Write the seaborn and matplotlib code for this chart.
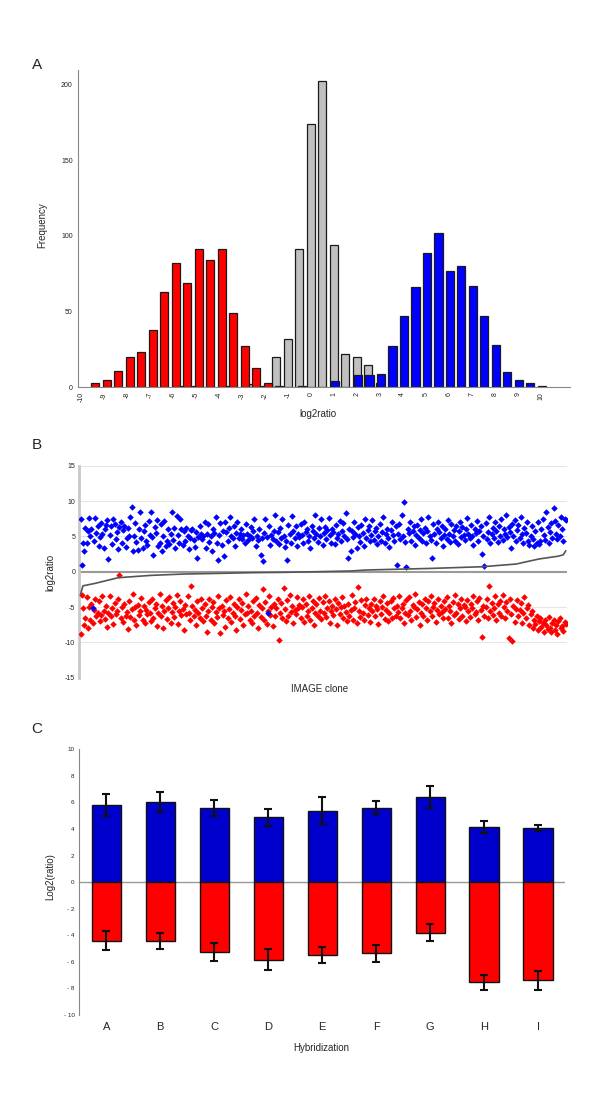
import seaborn as sns
import matplotlib.pyplot as plt
import pandas as pd
import numpy as np

sns.set_style("white")
plt.rcParams['font.family'] = ['Liberation Sans', 'DejaVu Sans']

# ---------------- data ----------------
# Panel A: histogram of log2ratio (bin width 0.5)
red_bins = [-9.5, -9.0, -8.5, -8.0, -7.5, -7.0, -6.5, -6.0, -5.5, -5.0, -4.5, -4.0,
            -3.5, -3.0, -2.5, -2.0, -1.5, -0.5]
red_counts = [3, 5, 11, 20, 23, 38, 63, 82, 69, 91, 84, 91, 49, 27, 13, 3, 1, 1]

gray_bins = [-5.5, -5.0, -3.5, -2.5, -2.0, -1.5, -1.0, -0.5, 0.0, 0.5, 1.0, 1.5, 2.0, 2.5, 3.0]
gray_counts = [1, 1, 1, 2, 1, 20, 32, 91, 174, 202, 94, 22, 20, 15, 3]

blue_bins = [1.0, 2.0, 2.5, 3.0, 3.5, 4.0, 4.5, 5.0, 5.5, 6.0, 6.5, 7.0, 7.5, 8.0,
             8.5, 9.0, 9.5, 10.0]
blue_counts = [4, 8, 8, 9, 27, 47, 66, 89, 102, 77, 80, 67, 47, 28, 10, 5, 3, 1]

hist_ticks = list(range(-10, 11))

# Panel B: log2ratio per IMAGE clone
blue_pts = [
    7.5, 1.0, 4.0, 3.0, 6.2, 4.1, 5.8, 7.6, 5.0, 6.0, -5.2, 4.4, 7.6, 5.5, 6.4, 3.6, 4.9, 6.9, 5.3, 3.4,
    6.1, 6.6, 7.3, 1.8, 5.2, 6.4, 3.9, 7.4, 6.8, 4.6, 5.6, 3.2, 6.3, 7.0, 4.0, 5.9, 6.5, 3.5, 4.7, 6.2,
    5.1, 7.7, 9.2, 3.0, 5.0, 6.9, 4.2, 3.1, 6.0, 8.4, 4.8, 3.3, 5.7, 6.6, 4.4, 3.8, 7.2, 5.2, 8.5, 4.9,
    2.3, 6.3, 5.5, 7.3, 3.6, 4.1, 6.8, 2.9, 5.0, 7.2, 3.7, 4.3, 6.0, 3.9, 5.4, 8.5, 4.5, 6.2, 3.3, 7.9,
    5.2, 4.1, 7.5, 6.1, 3.8, 5.7, 4.4, 6.2, 5.1, 3.2, 4.8, 5.9, 6.0, 4.5, 3.5, 5.6, 2.0, 4.9, 6.4, 5.3,
    4.6, 5.1, 7.0, 3.4, 5.4, 6.7, 4.2, 5.0, 3.0, 6.1, 5.5, 7.8, 4.0, 1.7, 5.2, 6.9, 3.8, 5.8, 2.2, 7.0,
    5.6, 4.3, 6.2, 7.8, 5.1, 4.7, 6.5, 3.6, 5.5, 7.1, 4.8, 5.3, 6.0, 4.6, 5.2, 4.1, 6.7, 5.4, 4.5, 5.0,
    6.3, 4.7, 5.7, 7.4, 3.7, 5.1, 4.5, 6.0, 2.4, 4.8, 1.5, 5.5, 7.4, 4.9, -5.8, 6.4, 3.8, 5.2, 4.6, 5.8,
    8.0, 4.4, 5.6, 3.9, 6.2, 4.7, 7.5, 5.0, 3.5, 4.3, 1.6, 6.6, 5.3, 4.1, 7.9, 5.8, 4.8, 6.4, 3.6, 5.4,
    4.9, 6.8, 5.2, 4.0, 7.0, 5.6, 6.1, 4.4, 5.0, 3.4, 6.5, 5.8, 4.7, 8.0, 5.4, 4.2, 6.2, 5.0, 7.5, 3.8,
    5.5, 6.3, 4.6, 5.9, 7.6, 5.2, 4.1, 6.0, 5.6, 3.9, 6.6, 4.8, 5.3, 7.2, 4.4, 5.8, 6.9, 5.0, 8.3, 4.6,
    2.0, 6.1, 3.0, 5.7, 4.9, 7.0, 5.4, 3.4, 6.3, 5.0, 4.2, 6.6, 5.5, 3.6, 7.5, 4.8, 5.9, 6.5, 4.3, 5.2,
    7.3, 4.5, 5.8, 6.2, 3.9, 5.1, 6.8, 4.4, 5.6, 7.7, 4.0, 5.3, 6.1, 4.7, 3.5, 5.9, 7.0, 5.2, 4.3, 6.4,
    0.95, 5.4, 6.8, 4.6, 8.0, 5.1, 9.8, 4.2, 0.7, 6.0, 5.5, 7.1, 4.4, 5.7, 6.4, 3.8, 5.2, 6.6, 4.8, 5.9,
    7.4, 4.3, 5.5, 6.2, 4.0, 5.8, 7.7, 5.0, 4.5, 2.0, 6.7, 5.3, 4.1, 6.0, 7.0, 5.6, 4.8, 6.4, 3.7, 5.2,
    6.1, 4.6, 7.3, 5.4, 4.2, 6.8, 5.0, 5.9, 4.4, 6.5, 3.9, 5.7, 7.1, 4.9, 6.3, 5.2, 4.5, 6.0, 7.6, 5.3,
    4.7, 6.6, 5.1, 3.8, 6.0, 5.5, 7.2, 4.3, 5.8, 6.4, 2.5, 5.0, 0.8, 6.9, 4.6, 5.6, 7.7, 4.1, 5.3, 6.2,
    4.8, 7.0, 5.7, 4.2, 6.5, 5.1, 7.4, 4.5, 6.1, 5.4, 8.0, 4.9, 6.3, 5.6, 3.3, 6.7, 5.0, 7.3, 4.4, 5.9,
    6.6, 4.7, 7.7, 5.3, 4.0, 6.2, 5.5, 7.0, 4.3, 3.8, 5.1, 6.4, 4.6, 3.6, 5.8, 4.1, 7.1, 3.9, 4.4, 6.0,
    7.4, 5.2, 4.5, 8.4, 6.3, 4.0, 5.6, 6.9, 4.8, 9.0, 7.2, 5.4, 4.6, 6.6, 5.0, 7.7, 6.1, 4.3, 7.5, 7.3,
]
red_pts = [
    -8.8, -3.3, -5.2, -7.6, -6.5, -3.6, -8.0, -5.0, -6.8, -4.6, -7.2, -5.4, -3.9, -6.3, -5.8, -4.2, -7.0, -6.1, -3.5, -5.6,
    -6.7, -4.8, -7.8, -5.9, -3.4, -6.2, -5.1, -7.4, -4.4, -6.0, -5.5, -3.8, -0.5, -6.6, -5.0, -7.1, -4.5, -6.3, -5.7, -8.1,
    -4.1, -6.4, -5.3, -3.2, -6.9, -5.0, -7.5, -4.7, -6.1, -5.6, -3.7, -6.8, -4.9, -7.3, -5.4, -6.0, -4.3, -5.8, -7.0, -3.9,
    -6.5, -5.2, -4.6, -7.7, -5.9, -3.1, -6.2, -4.8, -8.0, -5.5, -4.0, -6.7, -5.1, -3.6, -7.2, -5.7, -4.4, -6.4, -5.0, -3.3,
    -7.4, -5.6, -4.2, -6.1, -5.3, -8.3, -4.7, -6.0, -3.5, -5.8, -6.9, -2.0, -4.9, -6.3, -5.4, -7.6, -4.1, -5.9, -6.6, -3.8,
    -5.2, -7.0, -4.5, -6.2, -8.5, -5.6, -3.9, -6.8, -5.0, -4.3, -7.3, -5.7, -6.4, -3.4, -5.1, -8.7, -4.8, -6.1, -5.5, -7.8,
    -4.0, -6.5, -5.3, -3.6, -7.1, -5.9, -4.6, -6.3, -8.2, -5.0, -3.8, -6.7, -5.4, -4.4, -7.5, -6.0, -3.2, -5.8, -4.9, -6.9,
    -5.5, -7.2, -4.1, -6.2, -3.7, -5.8, -8.0, -4.7, -6.4, -5.1, -2.5, -6.8, -4.3, -7.4, -5.6, -3.5, -6.1, -5.0, -7.7, -4.6,
    -6.3, -5.2, -3.9, -9.6, -5.9, -4.4, -6.6, -2.3, -5.3, -7.0, -4.0, -6.2, -3.3, -5.7, -4.8, -7.3, -5.4, -6.0, -3.6, -5.1,
    -4.7, -6.5, -5.0, -3.8, -7.1, -4.5, -6.2, -5.6, -3.4, -6.9, -5.2, -4.1, -7.6, -5.8, -4.6, -6.3, -3.7, -5.5, -6.7, -4.3,
    -5.9, -3.5, -6.4, -5.1, -4.2, -7.2, -5.6, -4.8, -6.1, -3.9, -5.3, -7.5, -4.4, -6.0, -5.0, -3.6, -6.6, -4.9, -5.7, -7.0,
    -4.6, -6.2, -5.4, -3.3, -6.8, -5.1, -4.3, -7.3, -2.2, -5.5, -6.4, -4.0, -5.8, -6.9, -4.7, -3.8, -6.1, -5.2, -7.1, -4.5,
    -5.6, -3.9, -6.3, -4.8, -5.3, -7.4, -4.1, -6.0, -5.0, -3.5, -6.7, -5.4, -4.4, -7.0, -5.8, -4.2, -6.5, -3.7, -5.1, -6.2,
    -4.9, -5.7, -3.4, -6.6, -5.2, -4.5, -7.2, -5.9, -4.0, -6.1, -3.6, -5.5, -6.8, -4.7, -5.0, -3.2, -6.4, -5.3, -4.3, -7.6,
    -5.8, -4.6, -6.2, -3.8, -5.1, -6.9, -4.2, -5.6, -3.5, -6.3, -5.0, -4.4, -7.1, -5.4, -3.9, -6.0, -4.8, -5.7, -6.6, -4.1,
    -5.3, -3.6, -6.5, -4.9, -5.5, -7.3, -4.3, -6.1, -3.3, -5.8, -4.6, -6.7, -5.2, -3.8, -6.2, -4.7, -5.0, -7.0, -4.0, -5.6,
    -6.4, -4.5, -5.1, -3.4, -6.0, -5.7, -4.2, -6.8, -3.7, -5.4, -9.2, -4.8, -6.3, -5.0, -3.9, -6.6, -2.0, -5.5, -4.4, -6.1,
    -5.2, -3.5, -6.9, -4.6, -5.8, -4.1, -6.2, -3.3, -5.0, -6.5, -4.3, -5.6, -9.4, -3.8, -6.0, -9.8, -4.9, -7.1, -5.3, -4.0,
    -6.3, -5.4, -4.4, -7.2, -5.9, -3.6, -6.6, -5.1, -4.7, -7.5, -6.0, -5.6, -8.0, -6.8, -7.4, -6.2, -8.3, -7.0, -6.5, -7.8,
    -7.2, -8.5, -6.9, -7.6, -8.1, -6.4, -7.9, -8.6, -7.3, -6.8, -8.2, -7.5, -8.8, -7.0, -6.6, -8.0, -7.7, -8.4, -7.1, -7.4,
]
# sorted reference curve (clone index, log2ratio)
curve_idx = [0, 2, 12, 31, 58, 85, 113, 140, 167, 195, 222, 235, 289, 330, 358, 377, 393, 397, 399]
curve_val = [-3.2, -2.0, -1.65, -0.85, -0.52, -0.33, -0.24, -0.14, -0.09, 0.0, 0.1, 0.24,
             0.47, 0.7, 1.08, 1.8, 2.2, 2.4, 2.97]

# Panel C: mean log2(ratio) per hybridization
hyb = ['A', 'B', 'C', 'D', 'E', 'F', 'G', 'H', 'I']
up_mean = [5.8, 6.05, 5.6, 4.87, 5.38, 5.6, 6.4, 4.15, 4.07]
up_err = [0.8, 0.75, 0.6, 0.67, 1.0, 0.5, 0.85, 0.43, 0.25]
down_mean = [-4.4, -4.45, -5.25, -5.85, -5.45, -5.35, -3.8, -7.55, -7.4]
down_err = [0.73, 0.6, 0.7, 0.8, 0.6, 0.65, 0.63, 0.55, 0.7]
c_ticks = [10, 8, 6, 4, 2, 0, -2, -4, -6, -8, -10]
c_ticklabels = ['10', '8', '6', '4', '2', '0', '- 2', '- 4', '- 6', '- 8', '- 10']

# ---------------- layout ----------------
W, H = 600, 1100
fig = plt.figure(figsize=(W / 100, H / 100), dpi=100)


def px_axes(l, t, r, b):
    return fig.add_axes([l / W, 1 - b / H, (r - l) / W, (b - t) / H])


def px_text(x, y, s, **kw):
    fig.text(x / W, 1 - y / H, s, ha='center', va='center', **kw)


# ---- A ----
axA = px_axes(77.5, 70, 570, 387.3)
sns.barplot(x=np.array(gray_bins), y=gray_counts, native_scale=True, width=0.7,
            color='#c0c0c0', saturation=1, edgecolor='#1a1a1a', linewidth=0.9,
            errorbar=None, ax=axA)
sns.barplot(x=np.array(red_bins) + 0.13, y=red_counts, native_scale=True, width=0.7,
            color='#ff0000', saturation=1, edgecolor='#1a1a1a', linewidth=0.9,
            errorbar=None, ax=axA)
sns.barplot(x=np.array(blue_bins) + 0.05, y=blue_counts, native_scale=True, width=0.7,
            color='#0000ff', saturation=1, edgecolor='#1a1a1a', linewidth=0.9,
            errorbar=None, ax=axA)
axA.set_xlim(-10.15, 11.27)
axA.set_ylim(0, 209.5)
axA.set_xticks(hist_ticks)
axA.set_xticklabels([str(t) for t in hist_ticks], rotation=90, fontsize=5, color='#222')
axA.set_yticks([0, 50, 100, 150, 200])
axA.set_yticklabels(['0', '50', '100', '150', '200'], fontsize=5, color='#222')
axA.tick_params(length=2, width=0.6, color='#888', pad=1.5)
axA.set_xlabel('')
axA.set_ylabel('')
for s in ['top', 'right']:
    axA.spines[s].set_visible(False)
for s in ['left', 'bottom']:
    axA.spines[s].set_color('#888')
    axA.spines[s].set_linewidth(0.8)

px_text(37, 65, 'A', fontsize=11)
px_text(42, 225, 'Frequency', fontsize=7, rotation=90)
px_text(318, 414, 'log2ratio', fontsize=7)

# ---- B ----
axB = px_axes(79.3, 465.7, 567, 677.7)
for g in [-15, -10, -5, 5, 10, 15]:
    axB.axhline(g, color='#e6e6e6', lw=0.8, zorder=0)
axB.axhline(0, color='#9a9a9a', lw=1.5, zorder=1)
sns.scatterplot(x=np.arange(len(red_pts)), y=red_pts, color='#ff0000', marker='D',
                s=11, linewidth=0, ax=axB, zorder=3)
sns.scatterplot(x=np.arange(len(blue_pts)), y=blue_pts, color='#0000ff', marker='D',
                s=11, linewidth=0, ax=axB, zorder=3)
sns.lineplot(x=curve_idx, y=curve_val, color='#555555', lw=1.2, ax=axB, zorder=4)
axB.set_xlim(-1, 400)
axB.set_ylim(-15, 15)
axB.set_xticks([])
axB.set_yticks([-15, -10, -5, 0, 5, 10, 15])
axB.set_yticklabels(['-15', '-10', '-5', '0', '5', '10', '15'], fontsize=5, color='#222')
axB.tick_params(axis='y', length=0, pad=3)
axB.set_xlabel('')
axB.set_ylabel('')
for s in ['top', 'right', 'bottom']:
    axB.spines[s].set_visible(False)
axB.spines['left'].set_color('#c8c8c8')
axB.spines['left'].set_linewidth(2)

px_text(37, 445, 'B', fontsize=11)
px_text(50, 572, 'log2ratio', fontsize=7, rotation=90)
px_text(320, 689, 'IMAGE clone', fontsize=7)

# ---- C ----
axC = px_axes(79.3, 749.3, 565, 1015)
axC.axhline(0, color='#999999', lw=1, zorder=0)
sns.barplot(x=hyb, y=up_mean, color='#0000cc', saturation=1, width=0.54,
            edgecolor='#111', linewidth=1, errorbar=None, ax=axC, zorder=2)
sns.barplot(x=hyb, y=down_mean, color='#ff0000', saturation=1, width=0.54,
            edgecolor='#111', linewidth=1, errorbar=None, ax=axC, zorder=2)
axC.errorbar(np.arange(len(hyb)), up_mean, yerr=up_err, fmt='none', ecolor='#111',
             elinewidth=1.5, capsize=2.6, capthick=1.5, zorder=3)
axC.errorbar(np.arange(len(hyb)), down_mean, yerr=down_err, fmt='none', ecolor='#111',
             elinewidth=1.5, capsize=2.6, capthick=1.5, zorder=3)
axC.set_xlim(-0.5, 8.5)
axC.set_ylim(-10, 10)
axC.set_yticks(c_ticks)
axC.set_yticklabels(c_ticklabels, fontsize=4.5, color='#222')
axC.tick_params(axis='y', length=2, width=0.6, color='#888', pad=1.5)
axC.tick_params(axis='x', length=0, pad=5, labelsize=8)
axC.set_xlabel('')
axC.set_ylabel('')
for s in ['top', 'right', 'bottom']:
    axC.spines[s].set_visible(False)
axC.spines['left'].set_color('#888')
axC.spines['left'].set_linewidth(0.8)

px_text(37, 729, 'C', fontsize=11)
px_text(50, 877, 'Log2(ratio)', fontsize=7, rotation=90)
px_text(321, 1048, 'Hybridization', fontsize=7)

fig.savefig('out.png', dpi=100)
